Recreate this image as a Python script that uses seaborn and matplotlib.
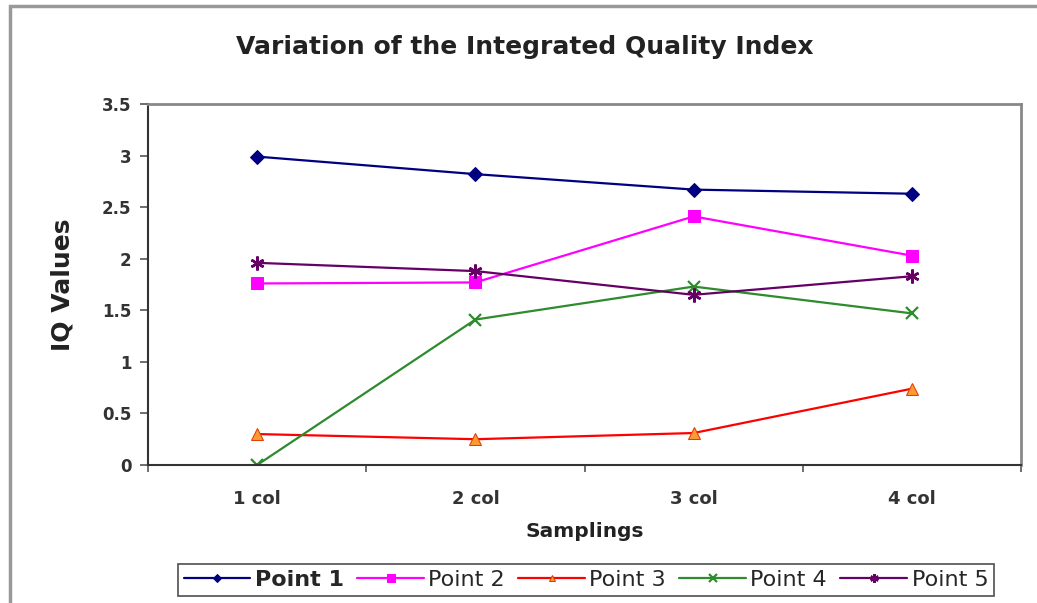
import numpy as np
import pandas as pd
import matplotlib
matplotlib.use("Agg")
import matplotlib.pyplot as plt
import seaborn as sns
from matplotlib.patches import Rectangle

categories = ["1 col", "2 col", "3 col", "4 col"]
point1 = [2.99, 2.82, 2.67, 2.63]
point2 = [1.76, 1.77, 2.41, 2.03]
point3 = [0.30, 0.25, 0.31, 0.74]
point4 = [0.00, 1.41, 1.73, 1.47]
point5 = [1.96, 1.88, 1.65, 1.83]
series_names = ["Point 1", "Point 2", "Point 3", "Point 4", "Point 5"]
yticks = [0, 0.5, 1, 1.5, 2, 2.5, 3, 3.5]
ytick_labels = ["0", "0.5", "1", "1.5", "2", "2.5", "3", "3.5"]

sns.set_style("white")
plt.rcParams['font.family'] = ['DejaVu Sans']

fig = plt.figure(figsize=(10.37, 6.03), dpi=100)
ax = fig.add_axes([148/1037, 1-465/603, (1021-148)/1037, (465-104)/603])

values = [point1, point2, point3, point4, point5]
styles = [
    dict(color="#000080", marker="D", markersize=7, markerfacecolor="#000080", markeredgecolor="#000080"),
    dict(color="#FF00FF", marker="s", markersize=9, markerfacecolor="#FF00FF", markeredgecolor="#FF00FF"),
    dict(color="#FF0000", marker="^", markersize=8, markerfacecolor="#FF9933", markeredgecolor="#E04000"),
    dict(color="#2E8B2E", marker="x", markersize=9, markeredgewidth=1.6, markeredgecolor="#2E8B2E"),
    dict(color="#660066", marker=(6, 2, 0), markersize=10, markeredgewidth=1.8, markeredgecolor="#660066"),
]
xpos = np.arange(len(categories))
for name, vals, st in zip(series_names, values, styles):
    df = pd.DataFrame({"x": xpos, "y": vals})
    color = st.pop("color")
    sns.lineplot(data=df, x="x", y="y", ax=ax, color=color, linewidth=1.6,
                 label=name, **st)

ax.set_xlim(-0.5, len(categories) - 0.5)
ax.set_ylim(0, 3.5)
ax.set_yticks(yticks)
ax.set_yticklabels(ytick_labels, fontsize=12, fontweight="bold", color="#333333")
ax.set_xticks(np.arange(-0.5, len(categories), 1.0))
ax.set_xticklabels([])
ax.set_xticks(xpos, minor=True)
ax.set_xticklabels(categories, minor=True, fontsize=13, fontweight="bold", color="#333333")
ax.tick_params(axis="x", which="minor", length=0, pad=18)
ax.tick_params(axis="x", which="major", length=5, direction="out", color="#555555", width=1.2)
ax.tick_params(axis="y", length=6, direction="out", color="#555555", width=1.2, pad=6)
ax.tick_params(left=True, bottom=True)

for side in ["left", "bottom"]:
    ax.spines[side].set_color("#333333")
    ax.spines[side].set_linewidth(1.5)
for side in ["top", "right"]:
    ax.spines[side].set_color("#888888")
    ax.spines[side].set_linewidth(2)

ax.set_xlabel("Samplings", fontsize=14.5, fontweight="bold", color="#222222", labelpad=10)
ax.set_ylabel("IQ Values", fontsize=18, fontweight="bold", color="#222222", labelpad=20)
fig.text(525/1037, 1-47/603, "Variation of the Integrated Quality Index",
         ha="center", va="center", fontsize=18, fontweight="bold", color="#222222")

ax.get_legend().remove()
handles, labels = ax.get_legend_handles_labels()
leg = fig.legend(handles, labels, loc="center", bbox_to_anchor=(586/1037, 1-580/603),
                 ncol=5, fontsize=16, frameon=True, fancybox=False, handlelength=3.0,
                 handletextpad=0.2, columnspacing=0.6, borderpad=0.25, markerscale=0.6)
leg.get_frame().set_edgecolor("#222222")
leg.get_frame().set_linewidth(1.2)
leg.get_texts()[0].set_fontweight("bold")

fig.patches.append(Rectangle((10/1037, -0.1), 1.2, 1 - 6/603 + 0.1, transform=fig.transFigure,
                             fill=False, edgecolor="#999999", linewidth=2.5))

fig.savefig("out.png", dpi=100)
